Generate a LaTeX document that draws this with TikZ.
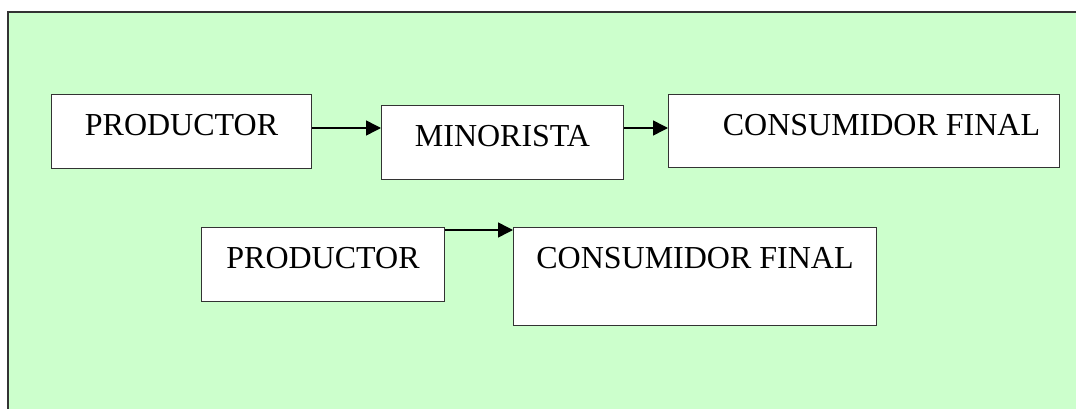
\documentclass[tikz,border=0pt]{standalone}
\usepackage{fontspec}
\setmainfont{Liberation Serif}
\usetikzlibrary{arrows.meta}
\definecolor{fondo}{HTML}{CCFFCC}
\tikzset{
  caja/.style={draw=black!80, fill=white, line width=1pt, inner sep=0pt, anchor=north west,
    text height=41pt, text depth=33pt, font=\fontsize{32}{38}\selectfont},
  flecha/.style={-{Triangle[length=15pt,width=15pt]}, line width=1.5pt},
}

\begin{document}
\begin{tikzpicture}[x=1pt, y=-1pt]

    %--------------------%
    % Background
    %--------------------%
    \useasboundingbox (0,0) rectangle (1076,409);
    \fill[fondo] (8,12) rectangle (1076,409);
    \draw[line width=1.5pt, black!80] (8,409) -- (8,12) -- (1076,12);

    %--------------------%
    % Row 1
    %--------------------%
    \node[caja, minimum width=260pt] (prod1) at (51,94) {PRODUCTOR};
    \node[caja, minimum width=242pt] (mino) at (381,105) {MINORISTA};
    \node[caja, minimum width=391pt, text depth=32pt] (cons1) at (668,94) {\hspace*{35pt}CONSUMIDOR FINAL};

    %--------------------%
    % Row 2
    %--------------------%
    \node[caja, minimum width=243pt] (prod2) at (201,227) {PRODUCTOR};
    \node[caja, minimum width=363pt, text depth=57pt] (cons2) at (513,227) {CONSUMIDOR FINAL};

    %--------------------%
    % Connections
    %--------------------%
    \draw[flecha] ([yshift=-34pt]prod1.north east) -- ([yshift=-23pt]mino.north west);
    \draw[flecha] ([yshift=-23pt]mino.north east) -- ([yshift=-34pt]cons1.north west);
    \draw[flecha] ([yshift=-3pt]prod2.north east) -- ([yshift=-3pt]cons2.north west);
\end{tikzpicture}
\end{document}
